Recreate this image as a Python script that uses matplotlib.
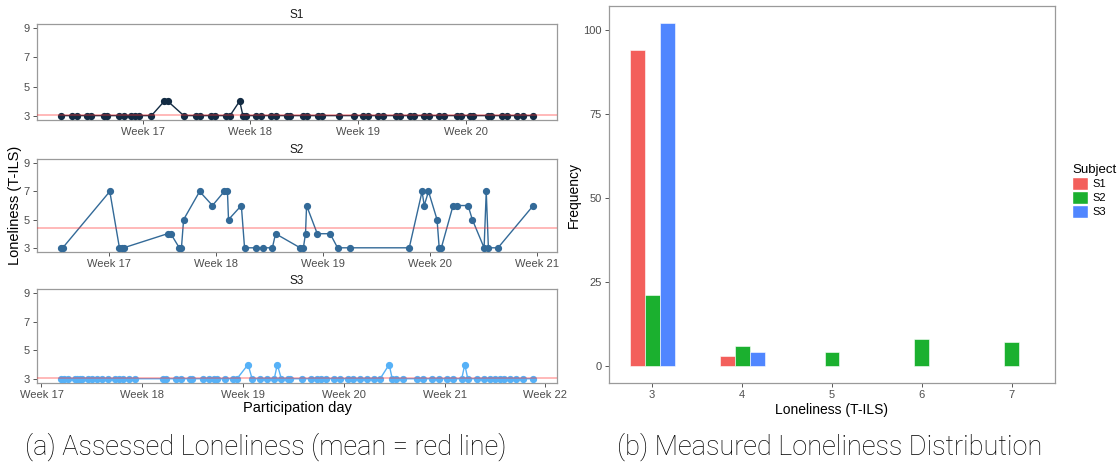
import numpy as np
import matplotlib.pyplot as plt
from matplotlib.patches import Patch

# --- Data ---

# S1: weeks (fractional) and T-ILS scores
s1_week = [16.235, 16.34, 16.39, 16.48, 16.52, 16.64, 16.67, 16.78, 16.82, 16.89,
           16.93, 16.96, 17.08, 17.20, 17.23, 17.38, 17.49, 17.53, 17.63, 17.67,
           17.77, 17.81, 17.90, 17.93, 17.96, 18.05, 18.10, 18.19, 18.24, 18.34,
           18.37, 18.49, 18.53, 18.63, 18.67, 18.82, 18.96, 19.05, 19.09, 19.19,
           19.23, 19.35, 19.39, 19.48, 19.52, 19.61, 19.66, 19.75, 19.80, 19.92,
           19.96, 20.04, 20.07, 20.21, 20.24, 20.34, 20.39, 20.48, 20.53, 20.63]
s1_score = [3, 3, 3, 3, 3, 3, 3, 3, 3, 3,
            3, 3, 3, 4, 4, 3, 3, 3, 3, 3,
            3, 3, 4, 3, 3, 3, 3, 3, 3, 3,
            3, 3, 3, 3, 3, 3, 3, 3, 3, 3,
            3, 3, 3, 3, 3, 3, 3, 3, 3, 3,
            3, 3, 3, 3, 3, 3, 3, 3, 3, 3]

s2_week = [16.55, 16.57, 17.01, 17.10, 17.12, 17.14, 17.55, 17.58, 17.66, 17.68,
           17.70, 17.85, 17.97, 18.08, 18.11, 18.12, 18.24, 18.27, 18.38, 18.44,
           18.53, 18.56, 18.79, 18.82, 18.84, 18.85, 18.95, 19.07, 19.14, 19.26,
           19.81, 19.93, 19.95, 19.99, 20.07, 20.09, 20.11, 20.22, 20.26, 20.36,
           20.40, 20.51, 20.53, 20.55, 20.64, 20.97]
s2_score = [3, 3, 7, 3, 3, 3, 4, 4, 3, 3,
            5, 7, 6, 7, 7, 5, 6, 3, 3, 3,
            3, 4, 3, 3, 4, 6, 4, 4, 3, 3,
            3, 7, 6, 7, 5, 3, 3, 6, 6, 6,
            5, 3, 7, 3, 3, 6]

s3_week = [17.19, 17.22, 17.26, 17.33, 17.35, 17.38, 17.40, 17.46, 17.50, 17.55,
           17.60, 17.66, 17.73, 17.77, 17.81, 17.87, 17.93, 18.21, 18.24, 18.33,
           18.38, 18.47, 18.49, 18.60, 18.66, 18.71, 18.74, 18.82, 18.90, 18.94,
           19.05, 19.09, 19.17, 19.24, 19.31, 19.34, 19.38, 19.45, 19.47, 19.59,
           19.67, 19.73, 19.77, 19.82, 19.90, 19.96, 20.04, 20.09, 20.16, 20.23,
           20.30, 20.36, 20.45, 20.48, 20.52, 20.59, 20.73, 20.79, 20.87, 20.94,
           21.02, 21.08, 21.17, 21.20, 21.23, 21.32, 21.39, 21.45, 21.50, 21.55,
           21.59, 21.65, 21.71, 21.78, 21.88]
s3_score = [3, 3, 3, 3, 3, 3, 3, 3, 3, 3,
            3, 3, 3, 3, 3, 3, 3, 3, 3, 3,
            3, 3, 3, 3, 3, 3, 3, 3, 3, 3,
            4, 3, 3, 3, 3, 4, 3, 3, 3, 3,
            3, 3, 3, 3, 3, 3, 3, 3, 3, 3,
            3, 3, 4, 3, 3, 3, 3, 3, 3, 3,
            3, 3, 3, 4, 3, 3, 3, 3, 3, 3,
            3, 3, 3, 3, 3]

# Histogram counts per loneliness level
levels = [3, 4, 5, 6, 7]
freq_s1 = [94, 3, 0, 0, 0]
freq_s2 = [21, 6, 4, 8, 7]
freq_s3 = [102, 4, 0, 0, 0]

subjects = ["S1", "S2", "S3"]
line_colors = ["#132B43", "#336A98", "#56B1F7"]
bar_colors = ["#F35F5B", "#1BB02F", "#5086FF"]

week_ticks = [[17, 18, 19, 20], [17, 18, 19, 20, 21], [17, 18, 19, 20, 21, 22]]

# --- Plotting ---

plt.rcParams["font.family"] = ["Liberation Sans", "DejaVu Sans"]
BORDER = "#9a9a9a"
TICKC = "#4d4d4d"

fig = plt.figure(figsize=(11.17, 4.65), dpi=100)

left_pos = [
    [0.0331, 0.742, 0.4655, 0.2065],
    [0.0331, 0.458, 0.4655, 0.200],
    [0.0331, 0.1763, 0.4655, 0.202],
]


def style_axes(ax):
    for sp in ax.spines.values():
        sp.set_color(BORDER)
        sp.set_linewidth(0.9)
    ax.tick_params(direction="out", length=3, width=0.7, color="#555555",
                   labelsize=8, labelcolor=TICKC, pad=2)


series = [(s1_week, s1_score, freq_s1), (s2_week, s2_score, freq_s2),
          (s3_week, s3_score, freq_s3)]

for i, (wk, sc, fr) in enumerate(series):
    ax = fig.add_axes(left_pos[i])
    mean = np.average(levels, weights=fr)
    ax.plot(wk, sc, color=line_colors[i], lw=1.0, marker="o", ms=4.2, zorder=3)
    ax.axhline(mean, color="#ff3030", alpha=0.4, lw=1.2, zorder=4)
    ax.margins(x=0.05)
    ax.set_ylim(2.7, 9.3)
    ax.set_yticks([3, 5, 7, 9])
    ax.set_xticks(week_ticks[i])
    ax.set_xticklabels([f"Week {w}" for w in week_ticks[i]])
    ax.set_title(subjects[i], fontsize=8.5, color="#1a1a1a", pad=4)
    style_axes(ax)
    if i == 1:
        ax.set_ylabel("Loneliness (T-ILS)", fontsize=10.5, labelpad=1)
    if i == 2:
        ax.set_xlabel("Participation day", fontsize=10.5, labelpad=1)

# Bar chart
axb = fig.add_axes([0.5452, 0.1763, 0.3993, 0.8108])
freqs = [freq_s1, freq_s2, freq_s3]
bw = 1 / 6
for j, lv in enumerate(levels):
    present = [k for k in range(3) if freqs[k][j] > 0]
    n = len(present)
    for m, k in enumerate(present):
        xc = lv + (m - (n - 1) / 2) * bw
        axb.bar(xc, freqs[k][j], width=bw, color=bar_colors[k],
                edgecolor="white", linewidth=0.4, zorder=3)
axb.set_xlim(2.52, 7.48)
axb.set_ylim(-5.1, 107.1)
axb.set_xticks(levels)
axb.set_yticks([0, 25, 50, 75, 100])
axb.set_xlabel("Loneliness (T-ILS)", fontsize=10, labelpad=2)
axb.set_ylabel("Frequency", fontsize=10, labelpad=2)
style_axes(axb)

handles = [Patch(facecolor=c, edgecolor="white") for c in bar_colors]
fig.legend(handles, subjects, title="Subject", loc="center left",
           bbox_to_anchor=(0.96, 0.59), frameon=False, fontsize=8,
           title_fontsize=9.5, handlelength=1.4, handleheight=1.4,
           handletextpad=0.4, labelspacing=0.1, alignment="left",
           borderpad=0, borderaxespad=0)

# Captions
fig.text(0.238, 0.039, "(a) Assessed Loneliness (mean = red line)",
         ha="center", va="center", fontsize=19.5, family="Roboto",
         fontweight="light", color="#000000")
fig.text(0.743, 0.039, "(b) Measured Loneliness Distribution",
         ha="center", va="center", fontsize=19.5, family="Roboto",
         fontweight="light", color="#000000")

fig.savefig("out.png", dpi=100)
